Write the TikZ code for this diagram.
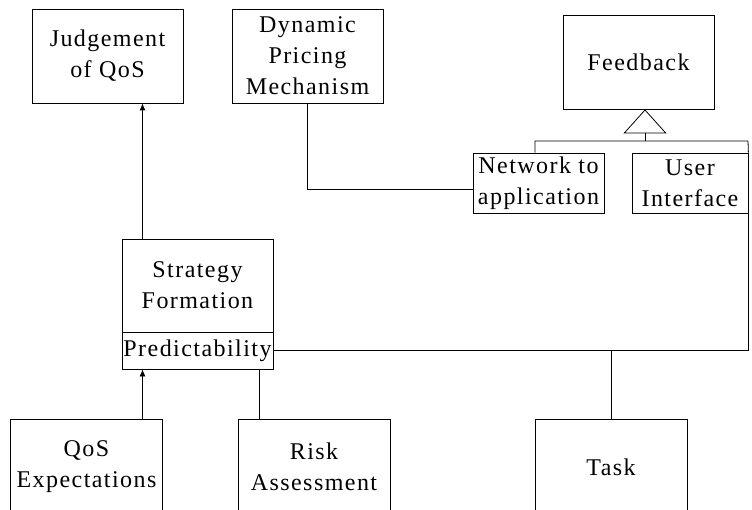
\documentclass[tikz,border=0pt]{standalone}
\usepackage{fontspec}
\setmainfont{Liberation Serif}[LetterSpace=6]
\usetikzlibrary{arrows.meta}
\begin{document}
\begin{tikzpicture}[x=1pt,y=-1pt,
	box/.style={draw,line width=0.8pt,align=center,inner sep=1pt,font=\fontsize{24}{31}\selectfont},
	link/.style={line width=0.8pt},
	tip/.style={link,-{Latex[length=7pt,width=6pt]}}]
	  \useasboundingbox (0,0) rectangle (752,510);
	  \clip (0,0) rectangle (752,510);

	  \node[box,minimum width=151pt,minimum height=94pt] (judge) at (107.5,56) {Judgement\\of QoS};
	  \node[box,minimum width=151pt,minimum height=94pt] (dyn) at (307.5,56) {Dynamic\\Pricing\\Mechanism};
	  \node[box,minimum width=151pt,minimum height=94pt] (fb) at (638.5,62) {Feedback};
	  \node[box,minimum width=131pt,minimum height=60pt] (net) at (538.5,183) {Network to\\application};
	  \node[box,minimum width=116pt,minimum height=60pt] (ui) at (690,183) {User\\Interface};

	  \node[box,minimum width=151pt,minimum height=93pt] (strat) at (197.5,285.5) {Strategy\\Formation};
	  \node[box,minimum width=151pt,minimum height=37pt] (pred) at (197.5,350.5) {Predictability};

	  \node[box,minimum width=152pt,minimum height=96pt] (qos) at (86.5,467) {QoS\\Expectations};
	  \node[box,minimum width=152pt,minimum height=96pt] (risk) at (314,467) {Risk\\Assessment};
	  \node[box,minimum width=152pt,minimum height=96pt] (task) at (611,467) {Task};

	  \coordinate (ax) at (142.5,0);
	  \coordinate (rx) at (259.5,0);
	  \coordinate (gx) at (645,0);

	  \draw[tip] (strat.north -| ax) -- (judge.south -| ax);
	  \draw[tip] (qos.north -| ax) -- (pred.south -| ax);
	  \draw[link] (risk.north -| rx) -- (pred.south -| rx);
	  \draw[link] (pred.east) -| (ui.south east);
	  \draw[link] (task.north) -- (task.north |- pred.east);
	  \draw[link] (dyn.south) |- ([yshift=-6pt]net.west);

	  \coordinate (bus) at (645,141);
	  \draw[link] (net.north -| 535,0) -- (535,141) -- (748,141) -- (ui.north east);
	  \draw[link,-{Triangle[open,length=24pt,width=43pt]}] (bus) -- (fb.south -| gx);
\end{tikzpicture}
\end{document}
